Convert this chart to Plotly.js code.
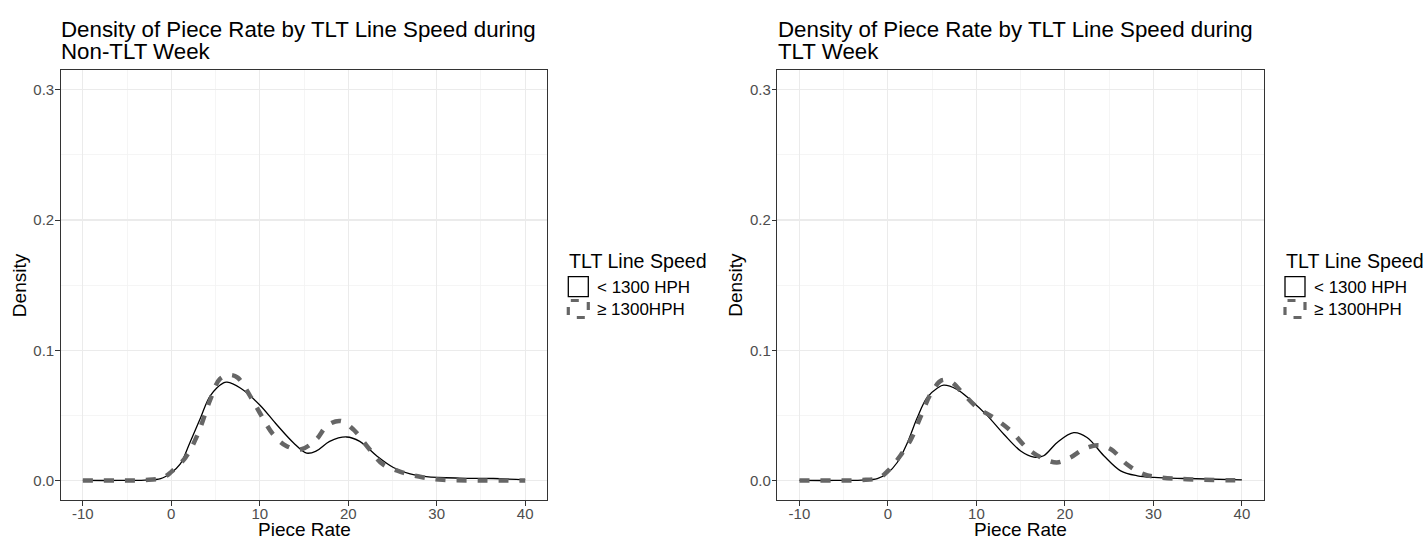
<!DOCTYPE html>
<html>
<head>
<meta charset="utf-8">
<script src="https://cdn.plot.ly/plotly-3.0.1.min.js"></script>
<style>
  html, body { margin: 0; padding: 0; background: #ffffff; }
  #chart { width: 1426px; height: 539px; }
</style>
</head>
<body>
<div id="chart"></div>
<script>
// Kernel density estimates of piece rate, by TLT line speed group.
const groupNames = ['< 1300 HPH', '\u2265 1300HPH'];
const legendTitle = 'TLT Line Speed';
const panelTitles = [
  ['Density of Piece Rate by TLT Line Speed during', 'Non-TLT Week'],
  ['Density of Piece Rate by TLT Line Speed during', 'TLT Week']
];
const xAxisTitle = 'Piece Rate';
const yAxisTitle = 'Density';

const xTickVals = [-10, 0, 10, 20, 30, 40];
const xTickText = ['-10', '0', '10', '20', '30', '40'];
const yTickVals = [0, 0.1, 0.2, 0.3];
const yTickText = ['0.0', '0.1', '0.2', '0.3'];

// Non-TLT week, < 1300 HPH
const nonTltSlowX = [-10, -6, -3, -1.2, 0, 1, 2.1, 3.3, 4.4, 5.9, 6.3, 7.8, 10, 11.9, 13.8, 15.3, 16.4, 17.9, 19.8, 21.3, 23.2, 25.1, 27, 28.8, 32.6, 36.4, 40];
const nonTltSlowY = [0, 0, 0.0003, 0.0015, 0.006, 0.0125, 0.029, 0.048, 0.065, 0.075, 0.0755, 0.071, 0.058, 0.043, 0.029, 0.021, 0.0227, 0.030, 0.0334, 0.030, 0.019, 0.010, 0.005, 0.003, 0.0018, 0.0015, 0.0005];
// Non-TLT week, >= 1300 HPH
const nonTltFastX = [-10, -6, -3, -1, 0, 1.6, 2.9, 4.4, 5.5, 6.6, 7.5, 8.9, 10, 11.5, 13, 14.7, 16.4, 17.6, 19.1, 20.6, 22.4, 23.9, 26.2, 28.5, 30.7, 35, 40];
const nonTltFastY = [0, 0, 0.0003, 0.002, 0.0066, 0.0176, 0.034, 0.062, 0.078, 0.081, 0.079, 0.065, 0.052, 0.0355, 0.0265, 0.024, 0.0316, 0.042, 0.0457, 0.039, 0.024, 0.0125, 0.006, 0.0023, 0.0005, 0, 0];
// TLT week, < 1300 HPH
const tltSlowX = [-10, -6, -3, -1.2, 0, 1.05, 2.2, 3.3, 4.4, 5.6, 6.3, 7.8, 9.3, 11.2, 13.1, 15, 16.5, 17.6, 19.1, 21, 22.5, 24.4, 26.3, 28.2, 30.1, 33.8, 40];
const tltSlowY = [0, 0, 0.0003, 0.0015, 0.006, 0.0138, 0.029, 0.048, 0.0635, 0.071, 0.0732, 0.070, 0.062, 0.050, 0.0355, 0.0227, 0.018, 0.019, 0.029, 0.0367, 0.033, 0.019, 0.0074, 0.0036, 0.0023, 0.0015, 0.0005];
// TLT week, >= 1300 HPH
const tltFastX = [-10, -6, -3, -1, 0, 1.4, 2.6, 3.7, 4.8, 6.1, 7.1, 8.6, 10.1, 12, 13.9, 15.7, 17.3, 19.1, 20.6, 22.1, 23.7, 25.2, 27, 28.9, 30.8, 33.8, 40];
const tltFastY = [0, 0, 0.0003, 0.002, 0.0074, 0.019, 0.0316, 0.049, 0.066, 0.077, 0.076, 0.066, 0.056, 0.048, 0.038, 0.025, 0.0176, 0.0138, 0.0176, 0.024, 0.027, 0.024, 0.0125, 0.0048, 0.0023, 0.001, 0];

const W = 1426, H = 539;
const px = v => v / W;
const py = v => 1 - v / H;

const FONT = 'Liberation Sans, Arial, Helvetica, sans-serif';
const solidLine = { color: '#000000', width: 1.3, shape: 'spline', smoothing: 1 };
const dashLine = { color: '#666666', width: 4.5, dash: '10px,11px', shape: 'spline', smoothing: 1 };

// Panel frames in pixels: [left, right]
const panels = [
  { left: 60.7, right: 547.3, xa: 'x', ya: 'y' },
  { left: 777.3, right: 1264, xa: 'x2', ya: 'y2' }
];
const plotTop = 70.3, plotBottom = 500;

const traces = [
  { x: nonTltSlowX, y: nonTltSlowY, name: groupNames[0], line: solidLine, xaxis: 'x', yaxis: 'y' },
  { x: nonTltFastX, y: nonTltFastY, name: groupNames[1], line: dashLine, xaxis: 'x', yaxis: 'y' },
  { x: tltSlowX, y: tltSlowY, name: groupNames[0], line: solidLine, xaxis: 'x2', yaxis: 'y2' },
  { x: tltFastX, y: tltFastY, name: groupNames[1], line: dashLine, xaxis: 'x2', yaxis: 'y2' }
].map(t => Object.assign({ type: 'scatter', mode: 'lines', showlegend: false, hoverinfo: 'skip' }, t));

function xAxis(p) {
  return {
    domain: [px(p.left), px(p.right)],
    range: [-12.5, 42.5],
    tickvals: xTickVals, ticktext: xTickText,
    ticks: 'outside', ticklen: 4.5, tickwidth: 1, tickcolor: '#333333',
    ticklabelstandoff: -5,
    tickfont: { family: FONT, size: 15, color: '#4D4D4D' },
    showline: true, mirror: true, linecolor: '#333333', linewidth: 1,
    showgrid: true, gridcolor: '#EBEBEB', gridwidth: 1.1,
    minor: { dtick: 5, tick0: -10, showgrid: true, gridcolor: '#F3F3F3', gridwidth: 0.8, ticks: '' },
    zeroline: false, fixedrange: true,
    anchor: p.ya
  };
}
function yAxis(p) {
  return {
    domain: [py(plotBottom), py(plotTop)],
    range: [-0.015, 0.315],
    tickvals: yTickVals, ticktext: yTickText,
    ticks: 'outside', ticklen: 4.5, tickwidth: 1, tickcolor: '#333333',
    ticklabelstandoff: -2,
    tickfont: { family: FONT, size: 15, color: '#4D4D4D' },
    showline: true, mirror: true, linecolor: '#333333', linewidth: 1,
    showgrid: true, gridcolor: '#EBEBEB', gridwidth: 1.1,
    minor: { dtick: 0.05, tick0: 0, showgrid: true, gridcolor: '#F3F3F3', gridwidth: 0.8, ticks: '' },
    zeroline: false, fixedrange: true,
    anchor: p.xa
  };
}

const annotations = [];
const shapes = [];
const textBase = { xref: 'paper', yref: 'paper', showarrow: false };

panels.forEach((p, i) => {
  // Two-line panel title
  annotations.push(Object.assign({}, textBase, {
    x: px(p.left - 1.5), y: py(29.5), xanchor: 'left', yanchor: 'middle',
    text: panelTitles[i][0], font: { family: FONT, size: 22.3, color: '#000000' }
  }));
  annotations.push(Object.assign({}, textBase, {
    x: px(p.left - 1.5), y: py(51.2), xanchor: 'left', yanchor: 'middle',
    text: panelTitles[i][1], font: { family: FONT, size: 22.3, color: '#000000' }
  }));
  // Axis titles
  annotations.push(Object.assign({}, textBase, {
    x: px((p.left + p.right) / 2), y: py(529), xanchor: 'center', yanchor: 'middle',
    text: xAxisTitle, font: { family: FONT, size: 19, color: '#000000' }
  }));
  annotations.push(Object.assign({}, textBase, {
    x: px(p.left - 41.7), y: py((plotTop + plotBottom) / 2), xanchor: 'center', yanchor: 'middle',
    textangle: -90, text: yAxisTitle, font: { family: FONT, size: 19, color: '#000000' }
  }));

  // Legend
  const lx = p.right + 21;
  annotations.push(Object.assign({}, textBase, {
    x: px(lx - 1.5), y: py(260.5), xanchor: 'left', yanchor: 'middle',
    text: legendTitle, font: { family: FONT, size: 19.6, color: '#000000' }
  }));
  annotations.push(Object.assign({}, textBase, {
    x: px(lx + 26.5), y: py(287.5), xanchor: 'left', yanchor: 'middle',
    text: groupNames[0], font: { family: FONT, size: 17, color: '#000000' }
  }));
  annotations.push(Object.assign({}, textBase, {
    x: px(lx + 26.5), y: py(309.5), xanchor: 'left', yanchor: 'middle',
    text: groupNames[1], font: { family: FONT, size: 17, color: '#000000' }
  }));
  shapes.push({
    type: 'rect', xref: 'paper', yref: 'paper',
    x0: px(lx), x1: px(lx + 20), y0: py(276.7), y1: py(296.7),
    line: { color: '#000000', width: 1.3 }, fillcolor: 'rgba(0,0,0,0)'
  });
  const k0 = lx, k1 = lx + 20, kt = 300.5, kb = 317.5;
  shapes.push({
    type: 'path', xref: 'paper', yref: 'paper',
    path: 'M' + px(k0 + 2.5) + ',' + py(kt) + ' L' + px(k1) + ',' + py(kt) +
          ' L' + px(k1) + ',' + py(kb) + ' L' + px(k0) + ',' + py(kb) +
          ' L' + px(k0) + ',' + py(kt) + ' L' + px(k0 + 2.5) + ',' + py(kt),
    line: { color: '#666666', width: 3.2, dash: '8px,11px' }
  });
});

const layout = {
  width: W, height: H,
  margin: { l: 0, r: 0, t: 0, b: 0 },
  paper_bgcolor: '#ffffff', plot_bgcolor: '#ffffff',
  showlegend: false,
  font: { family: FONT },
  xaxis: xAxis(panels[0]), yaxis: yAxis(panels[0]),
  xaxis2: xAxis(panels[1]), yaxis2: yAxis(panels[1]),
  annotations: annotations,
  shapes: shapes
};

Plotly.newPlot('chart', traces, layout, { staticPlot: true, displayModeBar: false });
</script>
</body>
</html>
